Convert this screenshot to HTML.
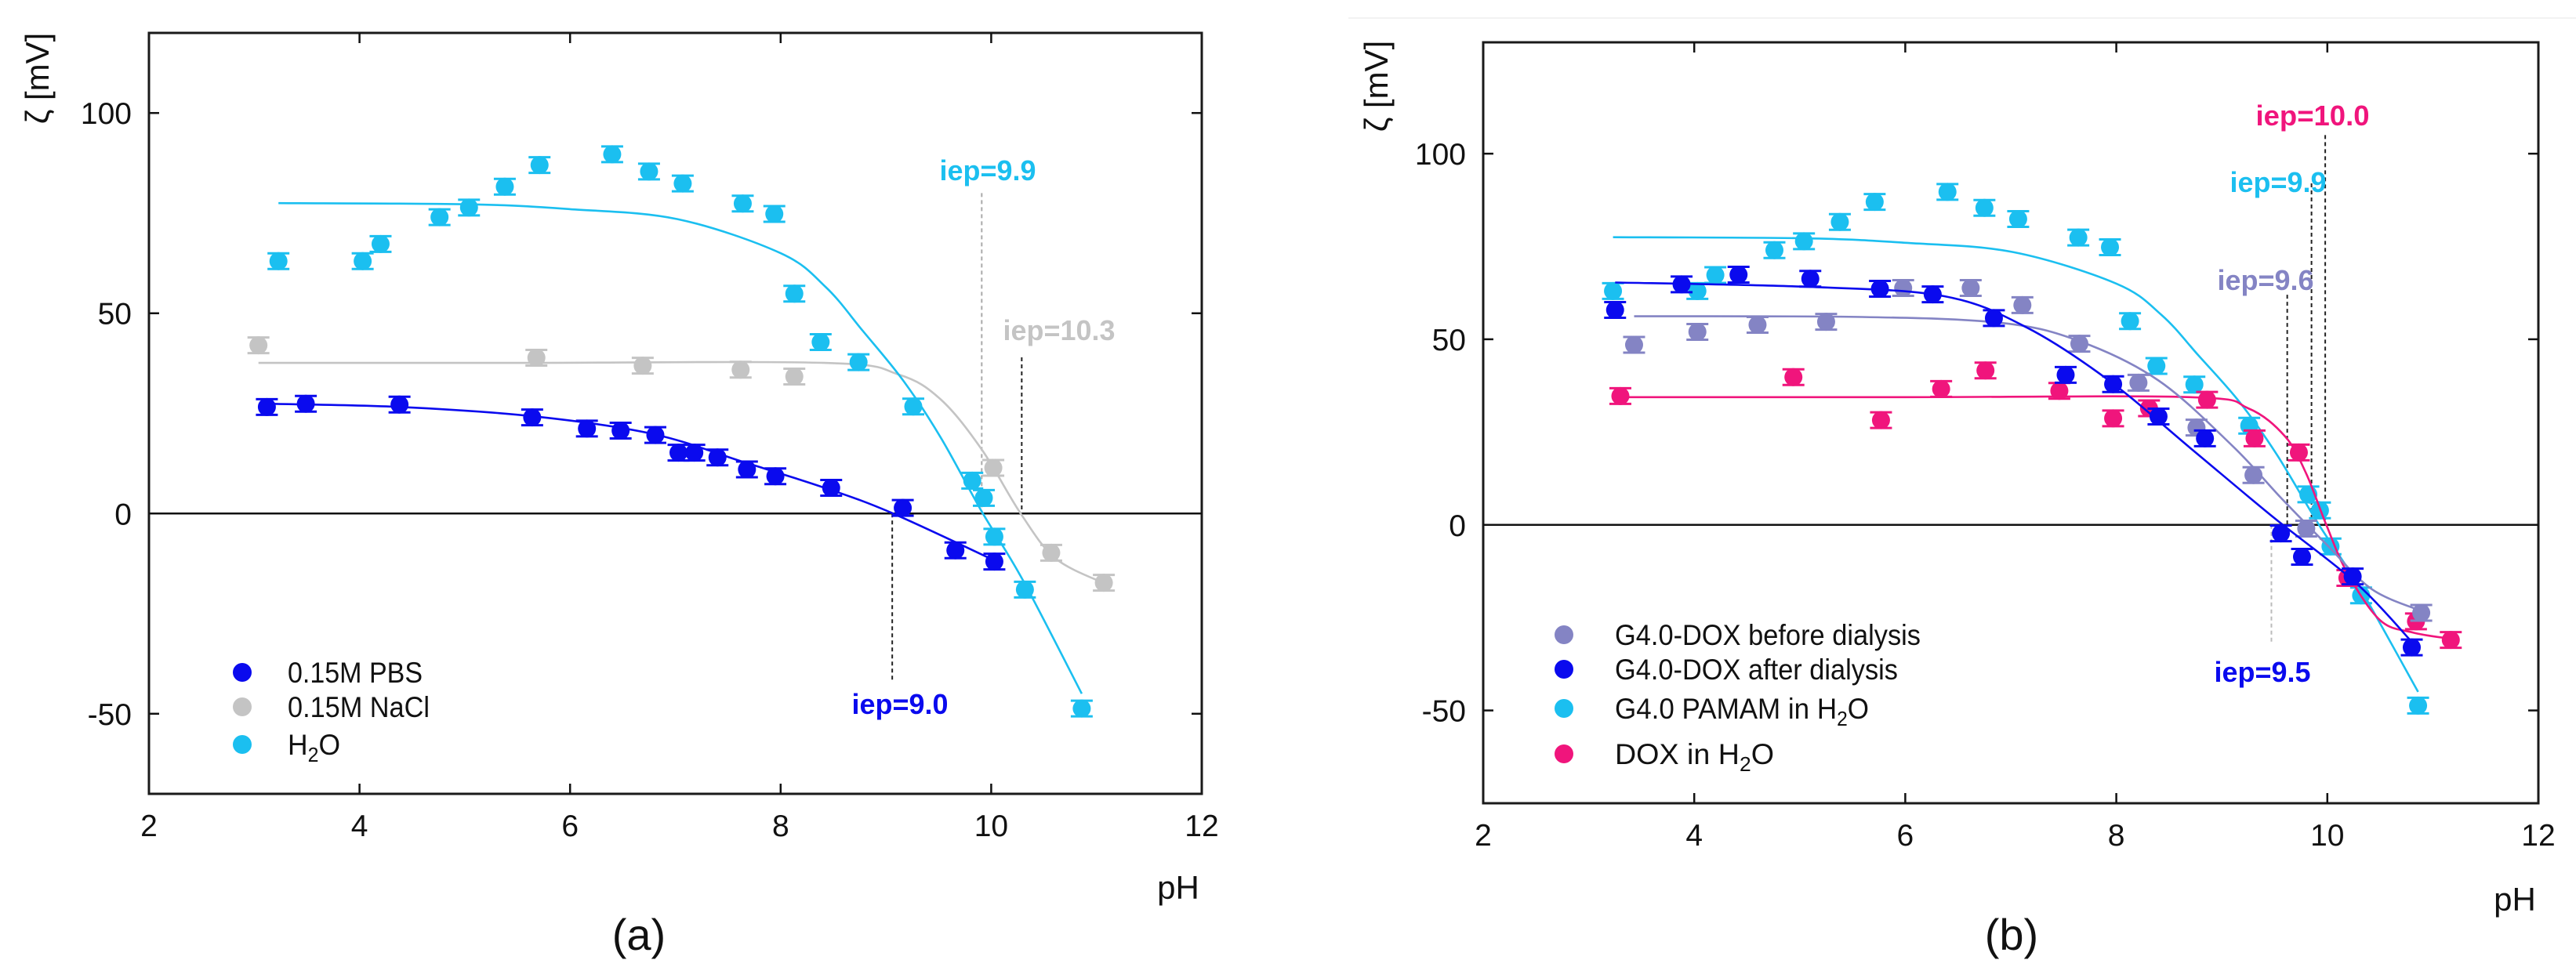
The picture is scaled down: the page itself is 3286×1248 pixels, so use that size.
<!DOCTYPE html>
<html><head><meta charset="utf-8">
<style>
html,body{margin:0;padding:0;background:#fff;}
svg{display:block;font-family:"Liberation Sans",Arial,sans-serif;}
</style></head>
<body>
<svg id="fig" width="3286" height="1248" viewBox="0 0 3286 1248">
<line x1="1720" y1="23" x2="3286" y2="23" stroke="#f2f2f2" stroke-width="2"/>
<g id="chartA"></g>
<g id="chartB"></g>
</svg>
<script>
// ---------- shared axis ticks ----------
const xTicks = [2, 4, 6, 8, 10, 12];
const yTicksA = [100, 50, 0, -50];
const yTicksB = [100, 50, 0, -50];

// ---------- chart (a) data ----------
const h2oPH   = [3.23,4.03,4.2,4.76,5.04,5.38,5.71,6.4,6.75,7.07,7.64,7.94,8.13,8.38,8.74,9.26,9.82,9.93,10.03,10.32,10.86];
const h2oZeta = [63,63,67.3,74,76.4,81.6,87,89.7,85.4,82.4,77.4,74.8,54.9,42.8,37.8,26.7,8.2,3.9,-5.8,-19,-48.7];
const h2oFitPH   = [3.23,5.04,6.0,7.02,8.0,8.43,8.78,9.17,9.52,9.91,10.3,10.86];
const h2oFitZeta = [77.5,77.2,76,73.5,65,56.5,45.6,33,19,0.5,-16.6,-45];

const naclPH   = [3.04,5.68,6.69,7.62,8.13,10.02,10.57,11.07];
const naclZeta = [42,38.9,36.9,35.9,34.2,11.4,-9.8,-17.3];
const naclFitPH   = [3.04,5.5,8.42,9.12,9.52,9.91,10.28,10.61,11.07];
const naclFitZeta = [37.6,37.6,37.6,34.7,28.5,16,0,-11.2,-17.4];

const pbsPH   = [3.12,3.49,4.38,5.64,6.16,6.48,6.81,7.03,7.18,7.4,7.68,7.95,8.48,9.16,9.66,10.03];
const pbsZeta = [26.6,27.4,27.2,24,21.2,20.7,19.6,15.2,15.2,14,11,9.3,6.4,1.4,-9.2,-12];
const pbsFitPH   = [3.12,4.38,5.64,6.78,7.64,8.42,9.05,10.03];
const pbsFitZeta = [27.4,26.6,24.3,19.9,12.9,6.4,0.2,-11.7];

// ---------- chart (b) data ----------
const pamamPH   = h2oPH;
const pamamZeta = h2oZeta;
const pamamFitPH   = h2oFitPH;
const pamamFitZeta = h2oFitZeta;

const afterPH   = [3.25,3.88,4.42,5.1,5.76,6.26,6.84,7.52,7.97,8.4,8.84,9.56,9.76,10.24,10.8];
const afterZeta = [57.9,64.8,67.4,66.3,63.6,62.1,55.7,40.4,37.9,29.2,23.3,-2.3,-8.6,-13.9,-33];
const afterFitPH   = [3.25,5.1,6.37,7.15,7.93,8.71,9.49,10.27,10.8];
const afterFitZeta = [65.3,64.1,61.6,53.2,38.9,20.5,2,-15.6,-31.5];

const beforePH   = [3.43,4.03,4.6,5.25,5.98,6.62,7.11,7.65,8.21,8.76,9.3,9.8,10.89];
const beforeZeta = [48.5,52,53.9,54.7,63.8,63.8,59.2,48.8,38.3,26.2,13.4,-1,-23.7];
const beforeFitPH   = [3.43,5.59,6.91,7.65,8.4,9.1,9.57,10.0,10.42,10.89];
const beforeFitZeta = [56.2,56,54.4,49.5,38.9,21.3,7,-5.5,-17.3,-23.2];

const doxPH   = [3.3,4.94,5.77,6.34,6.76,7.46,7.97,8.31,8.86,9.31,9.73,10.19,10.84,11.17];
const doxZeta = [34.7,39.8,28.2,36.6,41.6,36.1,28.7,31.4,33.7,23.3,19.5,-14.3,-26,-31];
const doxFitPH   = [3.3,6.0,8.7,9.25,9.6,9.8,9.99,10.19,10.5,10.81,11.17];
const doxFitZeta = [34.4,34.4,34.4,31.4,23.8,13.8,0,-13,-25.7,-29,-30.7];

const NS = "http://www.w3.org/2000/svg";
function el(parent, tag, attrs) {
  const e = document.createElementNS(NS, tag);
  for (const k in attrs) e.setAttribute(k, attrs[k]);
  parent.appendChild(e);
  return e;
}
function smoothPath(pts) {
  let d = "M" + pts[0][0].toFixed(1) + "," + pts[0][1].toFixed(1);
  for (let i = 0; i < pts.length - 1; i++) {
    const p0 = pts[i - 1] || pts[i], p1 = pts[i], p2 = pts[i + 1], p3 = pts[i + 2] || p2;
    const c1x = p1[0] + (p2[0] - p0[0]) / 6, c1y = p1[1] + (p2[1] - p0[1]) / 6;
    const c2x = p2[0] - (p3[0] - p1[0]) / 6, c2y = p2[1] - (p3[1] - p1[1]) / 6;
    d += " C" + c1x.toFixed(1) + "," + c1y.toFixed(1) + " " + c2x.toFixed(1) + "," + c2y.toFixed(1) + " " + p2[0].toFixed(1) + "," + p2[1].toFixed(1);
  }
  return d;
}

function buildChart(g, cfg) {
  const xs = v => cfg.left + (v - 2) / 10 * (cfg.right - cfg.left);
  const ys = v => cfg.top + (cfg.yMax - v) / (cfg.yMax - cfg.yMin) * (cfg.bottom - cfg.top);

  // frame
  const frame = el(g, "rect", {x: cfg.left, y: cfg.top, width: cfg.right - cfg.left, height: cfg.bottom - cfg.top, fill: "none", stroke: "#1a1a1a", "stroke-width": 3});
  
  
  // zero line
  const z = el(g, "line", {x1: cfg.left, x2: cfg.right, y1: ys(0), y2: ys(0), stroke: "#111", "stroke-width": 2.5});
  
  

  // x ticks
  xTicks.forEach(t => {
    const x = xs(t);
    if (t > 2 && t < 12) {
      const a = el(g, "line", {x1: x, x2: x, y1: cfg.bottom, y2: cfg.bottom - 13, stroke: "#111", "stroke-width": 2.5});
      
      
      const b = el(g, "line", {x1: x, x2: x, y1: cfg.top, y2: cfg.top + 13, stroke: "#111", "stroke-width": 2.5});
      
      
    }
    const lb = el(g, "text", {x: x, y: cfg.bottom + 54, "font-size": 39, "text-anchor": "middle", fill: "#111"});
    lb.textContent = t;
    
    
  });
  // y ticks
  cfg.yTicks.forEach(t => {
    const y = ys(t);
    const a = el(g, "line", {x1: cfg.left, x2: cfg.left + 13, y1: y, y2: y, stroke: "#111", "stroke-width": 2.5});
    
    
    const b = el(g, "line", {x1: cfg.right, x2: cfg.right - 13, y1: y, y2: y, stroke: "#111", "stroke-width": 2.5});
    
    
    const lb = el(g, "text", {x: cfg.left - 22, y: y + 14, "font-size": 39, "text-anchor": "end", fill: "#111"});
    lb.textContent = t;
    
    
  });
  // y title
  const yt = el(g, "text", {x: 0, y: 0, "font-size": 42, "text-anchor": "middle", fill: "#111", transform: "translate(" + (cfg.ytX) + "," + cfg.ytY + ") rotate(-90)"});
  yt.textContent = "ζ [mV]";
  
  
  // x title
  const xt = el(g, "text", {x: cfg.phX, y: cfg.phY, "font-size": 42, "text-anchor": "middle", fill: "#111"});
  xt.textContent = "pH";
  
  
  // panel label
  const pl = el(g, "text", {x: cfg.panelX, y: 1212, "font-size": 56, "text-anchor": "middle", fill: "#111"});
  pl.textContent = cfg.panel;
  
  

  // iep guide lines
  cfg.ieps.forEach(a => {
    const ln = el(g, "line", {x1: xs(a.x), x2: xs(a.x), y1: ys(a.y1), y2: ys(a.y2), stroke: a.lineColor, "stroke-width": 2, "stroke-dasharray": "5,4"});
    
    
  });

  // series
  cfg.series.forEach(s => {
    const pts = s.fitX.map((v, i) => [xs(v), ys(s.fitY[i])]);
    const fit = el(g, "path", {d: smoothPath(pts), fill: "none", stroke: s.color, "stroke-width": 2.6});
    
    
    s.x.forEach((v, i) => {
      const cx = xs(v), cy = ys(s.y[i]);
      const e = 2;
      const grp = el(g, "g", {});
      
      
      el(grp, "line", {x1: cx, x2: cx, y1: cy - e * 5, y2: cy + e * 5, stroke: s.color, "stroke-width": 3});
      el(grp, "line", {x1: cx - 14, x2: cx + 14, y1: cy - e * 5, y2: cy - e * 5, stroke: s.color, "stroke-width": 3});
      el(grp, "line", {x1: cx - 14, x2: cx + 14, y1: cy + e * 5, y2: cy + e * 5, stroke: s.color, "stroke-width": 3});
      el(grp, "circle", {cx: cx, cy: cy, r: 11.5, fill: s.color});
    });
  });

  // iep labels
  cfg.ieps.forEach(a => {
    const t = el(g, "text", {x: a.tx, y: a.ty, "font-size": 36, "font-weight": "bold", fill: a.color, "text-anchor": "middle", textLength: a.w, lengthAdjust: "spacingAndGlyphs"});
    t.textContent = a.label;
    
    
  });

  // legend
  cfg.legend.forEach(L => {
    const c = el(g, "circle", {cx: cfg.legX, cy: L.y, r: 12, fill: L.color});
    
    
    const t = el(g, "text", {x: cfg.legTX, y: L.y + 13, "font-size": 37, fill: "#111", textLength: L.w, lengthAdjust: "spacingAndGlyphs"});
    
    
    if (L.sub) {
      t.appendChild(document.createTextNode(L.text));
      const s = el(t, "tspan", {"font-size": 26, dy: 9});
      s.textContent = "2";
      const o = el(t, "tspan", {dy: -9});
      o.textContent = "O";
    } else {
      t.textContent = L.text;
    }
  });
}

const CY = "#1bbff0", BL = "#0a0aee", GR = "#c4c4c4", LV = "#8484c4", PK = "#f0157c";

buildChart(document.getElementById("chartA"), {
  left: 190, right: 1533, top: 42, bottom: 1013, yMin: -70, yMax: 120, yTicks: yTicksA,
  ytX: 62, ytY: 100, phX: 1503, phY: 1147, panel: "(a)", panelX: 815,
  series: [
    {name: "nacl", color: GR, x: naclPH, y: naclZeta, fitX: naclFitPH, fitY: naclFitZeta},
    {name: "h2o", color: CY, x: h2oPH, y: h2oZeta, fitX: h2oFitPH, fitY: h2oFitZeta},
    {name: "pbs", color: BL, x: pbsPH, y: pbsZeta, fitX: pbsFitPH, fitY: pbsFitZeta}
  ],
  ieps: [
    {x: 9.91, y1: 80, y2: 0, lineColor: "#aaa", color: CY, label: "iep=9.9", tx: 1260, ty: 230, w: 123},
    {x: 10.29, y1: 39, y2: 0, lineColor: "#222", color: GR, label: "iep=10.3", tx: 1351, ty: 434, w: 143},
    {x: 9.06, y1: 0, y2: -41.5, lineColor: "#222", color: BL, label: "iep=9.0", tx: 1148, ty: 911, w: 123}
  ],
  legX: 309, legTX: 367,
  legend: [
    {y: 858, color: BL, text: "0.15M PBS", w: 172},
    {y: 902, color: GR, text: "0.15M NaCl", w: 181},
    {y: 950, color: CY, text: "H", sub: true, w: 67}
  ]
});

buildChart(document.getElementById("chartB"), {
  left: 1892, right: 3238, top: 54, bottom: 1025, yMin: -75, yMax: 130, yTicks: yTicksB,
  ytX: 1770, ytY: 110, phX: 3208, phY: 1162, panel: "(b)", panelX: 2566,
  series: [
    {name: "pamam", color: CY, x: pamamPH, y: pamamZeta, fitX: pamamFitPH, fitY: pamamFitZeta},
    {name: "dox", color: PK, x: doxPH, y: doxZeta, fitX: doxFitPH, fitY: doxFitZeta},
    {name: "before-dialysis", color: LV, x: beforePH, y: beforeZeta, fitX: beforeFitPH, fitY: beforeFitZeta},
    {name: "after-dialysis", color: BL, x: afterPH, y: afterZeta, fitX: afterFitPH, fitY: afterFitZeta}
  ],
  ieps: [
    {x: 9.98, y1: 105, y2: 0, lineColor: "#222", color: PK, label: "iep=10.0", tx: 2950, ty: 160, w: 145},
    {x: 9.85, y1: 92, y2: 0, lineColor: "#222", color: CY, label: "iep=9.9", tx: 2906, ty: 245, w: 123},
    {x: 9.62, y1: 62, y2: 0, lineColor: "#222", color: LV, label: "iep=9.6", tx: 2890, ty: 370, w: 123},
    {x: 9.47, y1: 0, y2: -32, lineColor: "#bbb", color: BL, label: "iep=9.5", tx: 2886, ty: 870, w: 123}
  ],
  legX: 1995, legTX: 2060,
  legend: [
    {y: 810, color: LV, text: "G4.0-DOX before dialysis", w: 390},
    {y: 854, color: BL, text: "G4.0-DOX after dialysis", w: 361},
    {y: 904, color: CY, text: "G4.0 PAMAM in H", sub: true, w: 324},
    {y: 962, color: PK, text: "DOX in H", sub: true, w: 203}
  ]
});
</script>
</body></html>
